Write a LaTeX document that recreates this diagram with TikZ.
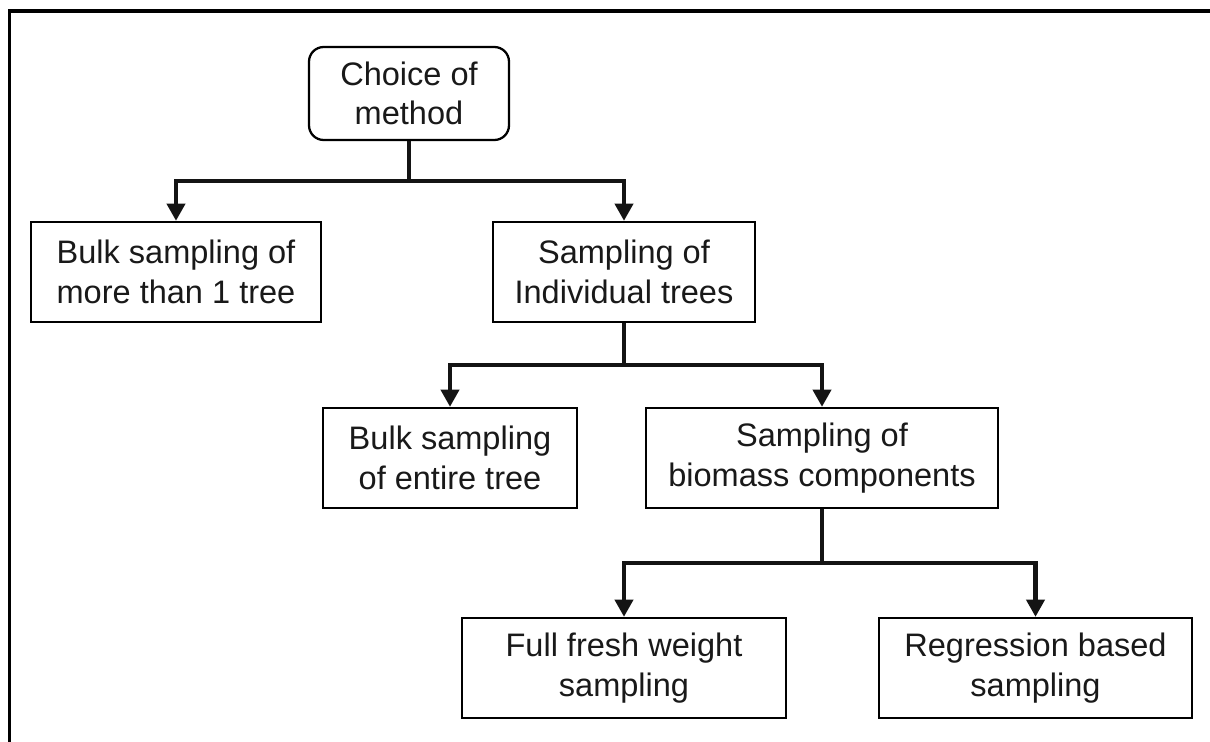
\documentclass[tikz,border=0pt]{standalone}
\usepackage{fontspec}
\setmainfont{Liberation Sans}
\usetikzlibrary{arrows.meta}
\begin{document}
\begin{tikzpicture}[x=0.75pt,y=-0.75pt,
  box/.style={draw=black,line width=1.7pt,fill=white,align=center,inner sep=0pt,
    font=\fontsize{24.4}{29.5}\selectfont,text=black!90},
  conn/.style={line width=3.2pt,draw=black!92,-{Triangle[length=13pt,width=13.5pt]}},
  trunk/.style={line width=3.2pt,draw=black!92},
  frameline/.style={line width=2.3pt,draw=black}]
\useasboundingbox (0,0) rectangle (1210,742);
\draw[frameline] (1210,11) -- (9.5,11) -- (9.5,742);
\node[box,rounded corners=11pt,minimum width=200*0.75pt,minimum height=93*0.75pt] (choice) at (409,93.5) {Choice of\\method};
\node[box,minimum width=290*0.75pt,minimum height=100*0.75pt] (bulk1) at (176,272) {Bulk sampling of\\more than 1 tree};
\node[box,minimum width=262*0.75pt,minimum height=100*0.75pt] (indiv) at (624,272) {Sampling of\\Individual trees};
\node[box,minimum width=254*0.75pt,minimum height=100*0.75pt] (bulk2) at (450,458) {Bulk sampling\\of entire tree};
\node[box,minimum width=352*0.75pt,minimum height=100*0.75pt] (biomass) at (822,458) {Sampling of\\biomass components};
\node[box,minimum width=324*0.75pt,minimum height=100*0.75pt] (fresh) at (624,668) {Full fresh weight\\sampling};
\node[box,minimum width=313*0.75pt,minimum height=100*0.75pt] (regr) at (1035.5,668) {Regression based\\sampling};
\coordinate (j1) at (409,181);
\coordinate (j2) at (624,365);
\coordinate (j3) at (822,563);
\draw[trunk] (choice.south) -- (j1);
\draw[conn] (j1) -| (bulk1.north);
\draw[conn] (j1) -| (indiv.north);
\draw[trunk] (indiv.south) -- (j2);
\draw[conn] (j2) -| (bulk2.north);
\draw[conn] (j2) -| (biomass.north);
\draw[trunk] (biomass.south) -- (j3);
\draw[conn] (j3) -| (fresh.north);
\draw[conn] (j3) -| (regr.north);
\end{tikzpicture}
\end{document}
